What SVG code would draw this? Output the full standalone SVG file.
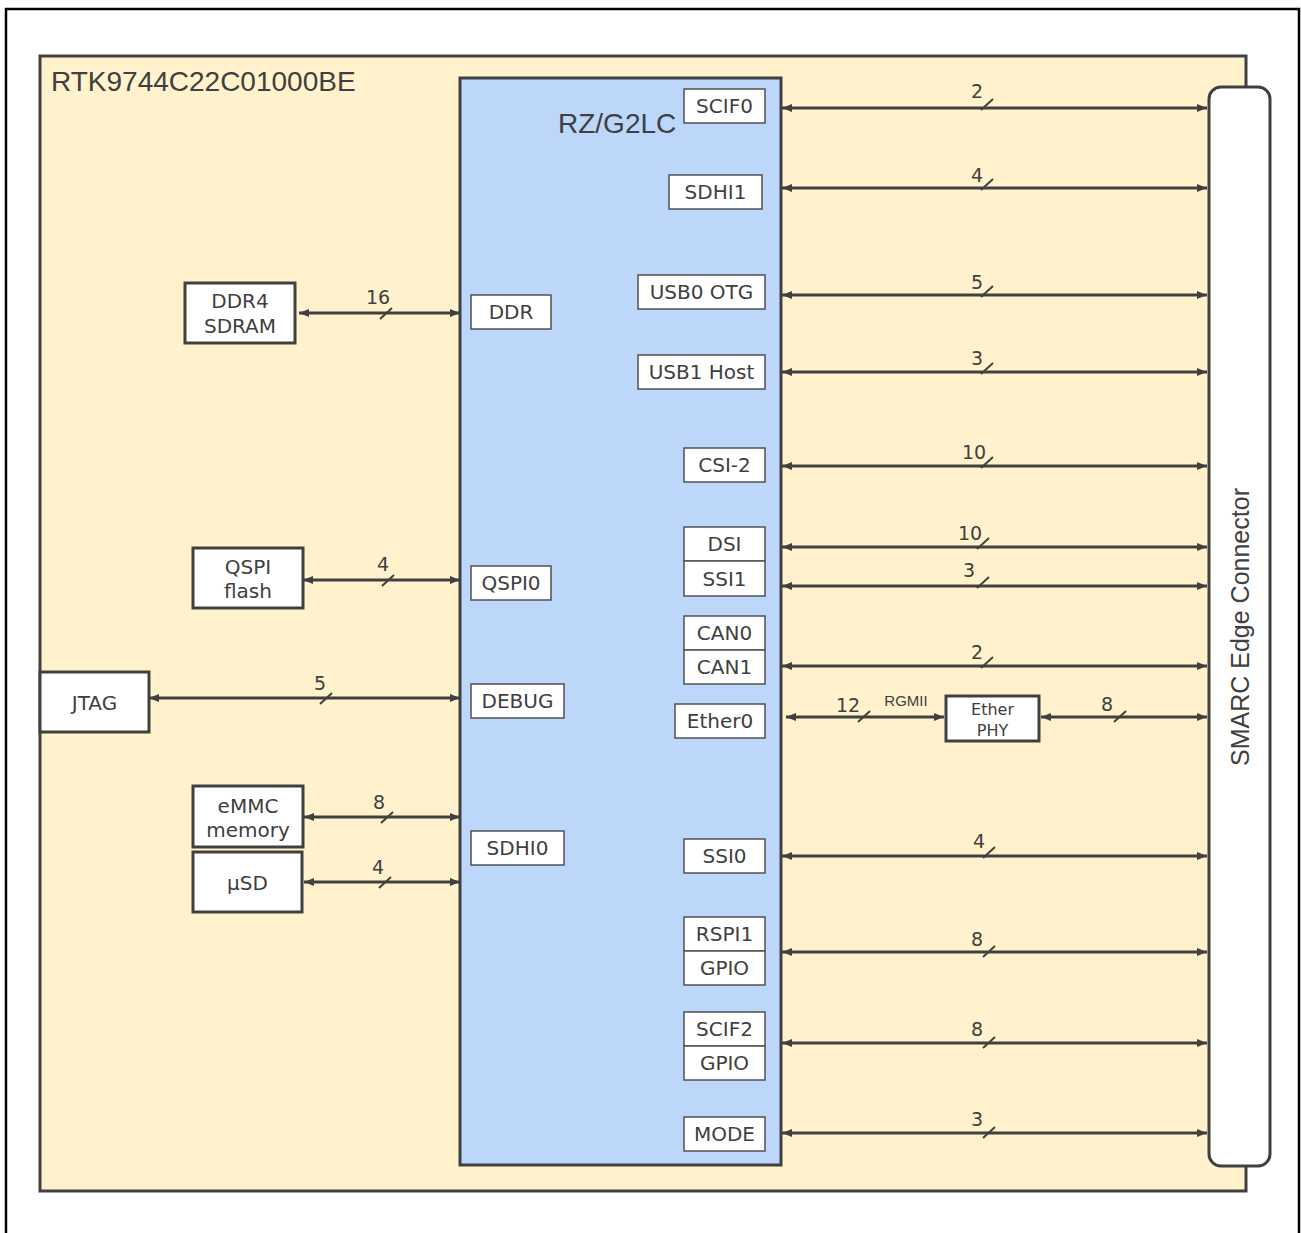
<svg xmlns="http://www.w3.org/2000/svg" width="1301" height="1233" viewBox="0 0 1301 1233">
<defs>
<marker id="ah" viewBox="0 0 10 8" refX="10" refY="4" markerWidth="10" markerHeight="8" markerUnits="userSpaceOnUse" orient="auto-start-reverse">
<path d="M0,0 L10,4 L0,8 z" fill="#404040"/>
</marker>
<style>
.ln{stroke:#404040;stroke-width:3;fill:none;marker-start:url(#ah);marker-end:url(#ah)}
.sl{stroke:#404040;stroke-width:2;fill:none}
.num{font-family:"DejaVu Sans",Verdana,sans-serif;font-size:19px;fill:#404040;text-anchor:middle}
.ib{fill:#fff;stroke:#505050;stroke-width:1.5}
.bb{fill:#fff;stroke:#404040;stroke-width:3}
.t{font-family:"DejaVu Sans",Verdana,sans-serif;font-size:20px;fill:#404040;text-anchor:middle}
.ts{font-family:"DejaVu Sans",Verdana,sans-serif;font-size:16px;fill:#404040;text-anchor:middle}
.ar{font-family:"Liberation Sans",Arial,sans-serif;fill:#404040}
</style>
</defs>
<rect x="6" y="9" width="1293" height="1240" fill="#fff" stroke="#000" stroke-width="2.5"/>
<g id="board">
<rect x="40" y="56" width="1206" height="1135" fill="#FFF2CC" stroke="#404040" stroke-width="3"/>
<text class="ar" x="51" y="91" font-size="28">RTK9744C22C01000BE</text>
</g>
<g id="chip">
<rect x="460" y="78" width="321" height="1087" fill="#BDD7FB" stroke="#404040" stroke-width="3"/>
<text class="ar" x="558" y="133" font-size="28">RZ/G2LC</text>
</g>
<g id="smarc">
<rect x="1209" y="87" width="61" height="1079" rx="12" fill="#fff" stroke="#404040" stroke-width="3"/>
<text class="ar" font-size="25" text-anchor="middle" transform="translate(1249,627) rotate(-90)">SMARC Edge Connector</text>
</g>
<g id="if-ddr"><rect class="ib" x="471" y="295" width="80" height="34"/><text class="t" x="511" y="319">DDR</text></g>
<g id="if-qspi0"><rect class="ib" x="471" y="566" width="80" height="34"/><text class="t" x="511" y="590">QSPI0</text></g>
<g id="if-debug"><rect class="ib" x="471" y="684" width="93" height="34"/><text class="t" x="517.5" y="708">DEBUG</text></g>
<g id="if-sdhi0"><rect class="ib" x="471" y="831" width="93" height="34"/><text class="t" x="517.5" y="855">SDHI0</text></g>
<g id="if-scif0"><rect class="ib" x="684" y="89" width="81" height="34"/><text class="t" x="724.5" y="113">SCIF0</text></g>
<g id="if-sdhi1"><rect class="ib" x="669" y="175" width="93" height="34"/><text class="t" x="715.5" y="199">SDHI1</text></g>
<g id="if-usb0"><rect class="ib" x="638" y="275" width="127" height="34"/><text class="t" x="701.5" y="299">USB0 OTG</text></g>
<g id="if-usb1"><rect class="ib" x="638" y="355" width="127" height="34"/><text class="t" x="701.5" y="379">USB1 Host</text></g>
<g id="if-csi2"><rect class="ib" x="684" y="448" width="81" height="34"/><text class="t" x="724.5" y="472">CSI-2</text></g>
<g id="if-dsi"><rect class="ib" x="684" y="527" width="81" height="34"/><text class="t" x="724.5" y="551">DSI</text></g>
<g id="if-ssi1"><rect class="ib" x="684" y="561" width="81" height="35"/><text class="t" x="724.5" y="586">SSI1</text></g>
<g id="if-can0"><rect class="ib" x="684" y="616" width="81" height="34"/><text class="t" x="724.5" y="640">CAN0</text></g>
<g id="if-can1"><rect class="ib" x="684" y="650" width="81" height="34"/><text class="t" x="724.5" y="674">CAN1</text></g>
<g id="if-ether0"><rect class="ib" x="675" y="704" width="90" height="34"/><text class="t" x="720" y="728">Ether0</text></g>
<g id="if-ssi0"><rect class="ib" x="684" y="839" width="81" height="34"/><text class="t" x="724.5" y="863">SSI0</text></g>
<g id="if-rspi1"><rect class="ib" x="684" y="917" width="81" height="34"/><text class="t" x="724.5" y="941">RSPI1</text></g>
<g id="if-gpio1"><rect class="ib" x="684" y="951" width="81" height="34"/><text class="t" x="724.5" y="975">GPIO</text></g>
<g id="if-scif2"><rect class="ib" x="684" y="1012" width="81" height="34"/><text class="t" x="724.5" y="1036">SCIF2</text></g>
<g id="if-gpio2"><rect class="ib" x="684" y="1046" width="81" height="34"/><text class="t" x="724.5" y="1070">GPIO</text></g>
<g id="if-mode"><rect class="ib" x="684" y="1117" width="81" height="34"/><text class="t" x="724.5" y="1141">MODE</text></g>
<g id="ddr4"><rect class="bb" x="185" y="283" width="110" height="60"/><text class="t" x="240" y="308">DDR4</text><text class="t" x="240" y="333">SDRAM</text></g>
<g id="qspi"><rect class="bb" x="193" y="548" width="110" height="60"/><text class="t" x="248" y="574">QSPI</text><text class="t" x="248" y="598">flash</text></g>
<g id="jtag"><rect class="bb" x="40" y="672" width="109" height="60"/><text class="t" x="94.5" y="710">JTAG</text></g>
<g id="emmc"><rect class="bb" x="193" y="786" width="110" height="61"/><text class="t" x="248" y="813">eMMC</text><text class="t" x="248" y="837">memory</text></g>
<g id="usd"><rect class="bb" x="193" y="852" width="109" height="60"/><text class="t" x="247.5" y="890">µSD</text></g>
<g id="etherphy"><rect class="bb" x="946" y="696" width="93" height="45"/><text class="ts" x="992.5" y="715">Ether</text><text class="ts" x="992.5" y="736">PHY</text></g>
<g id="connectors">
<line class="ln" x1="299" y1="313" x2="460" y2="313"/>
<line class="sl" x1="380" y1="319" x2="392" y2="308"/><text class="num" x="378" y="304">16</text>
<line class="ln" x1="303" y1="580" x2="460" y2="580"/>
<line class="sl" x1="382" y1="586" x2="394" y2="575"/><text class="num" x="383" y="571">4</text>
<line class="ln" x1="149" y1="698" x2="460" y2="698"/>
<line class="sl" x1="320" y1="704" x2="332" y2="693"/><text class="num" x="320" y="690">5</text>
<line class="ln" x1="304" y1="817" x2="460" y2="817"/>
<line class="sl" x1="381" y1="823" x2="393" y2="812"/><text class="num" x="379" y="809">8</text>
<line class="ln" x1="304" y1="882" x2="460" y2="882"/>
<line class="sl" x1="379" y1="888" x2="391" y2="877"/><text class="num" x="378" y="874">4</text>
<line class="ln" x1="782" y1="108" x2="1207" y2="108"/>
<line class="sl" x1="981" y1="110" x2="993" y2="99"/><text class="num" x="977" y="98">2</text>
<line class="ln" x1="782" y1="188" x2="1207" y2="188"/>
<line class="sl" x1="981" y1="190" x2="993" y2="179"/><text class="num" x="977" y="182">4</text>
<line class="ln" x1="782" y1="295" x2="1207" y2="295"/>
<line class="sl" x1="981" y1="297" x2="993" y2="286"/><text class="num" x="977" y="289">5</text>
<line class="ln" x1="782" y1="372" x2="1207" y2="372"/>
<line class="sl" x1="981" y1="374" x2="993" y2="363"/><text class="num" x="977" y="365">3</text>
<line class="ln" x1="782" y1="466" x2="1207" y2="466"/>
<line class="sl" x1="981" y1="468" x2="993" y2="457"/><text class="num" x="974" y="459">10</text>
<line class="ln" x1="782" y1="547" x2="1207" y2="547"/>
<line class="sl" x1="977" y1="549" x2="989" y2="538"/><text class="num" x="970" y="540">10</text>
<line class="ln" x1="782" y1="586" x2="1207" y2="586"/>
<line class="sl" x1="977" y1="588" x2="989" y2="577"/><text class="num" x="969" y="577">3</text>
<line class="ln" x1="782" y1="666" x2="1207" y2="666"/>
<line class="sl" x1="981" y1="668" x2="993" y2="657"/><text class="num" x="977" y="659">2</text>
<line class="ln" x1="786" y1="717" x2="944" y2="717"/>
<line class="sl" x1="858" y1="722" x2="870" y2="711"/><text class="num" x="848" y="712">12</text>
<text class="ar" x="906" y="706" font-size="15" text-anchor="middle">RGMII</text>
<line class="ln" x1="1041" y1="717" x2="1207" y2="717"/>
<line class="sl" x1="1114" y1="722" x2="1126" y2="711"/><text class="num" x="1107" y="711">8</text>
<line class="ln" x1="782" y1="856" x2="1207" y2="856"/>
<line class="sl" x1="983" y1="858" x2="995" y2="847"/><text class="num" x="979" y="848">4</text>
<line class="ln" x1="782" y1="952" x2="1207" y2="952"/>
<line class="sl" x1="983" y1="957" x2="995" y2="946"/><text class="num" x="977" y="946">8</text>
<line class="ln" x1="782" y1="1043" x2="1207" y2="1043"/>
<line class="sl" x1="983" y1="1048" x2="995" y2="1037"/><text class="num" x="977" y="1036">8</text>
<line class="ln" x1="782" y1="1133" x2="1207" y2="1133"/>
<line class="sl" x1="983" y1="1138" x2="995" y2="1127"/><text class="num" x="977" y="1126">3</text>
</g>
</svg>
